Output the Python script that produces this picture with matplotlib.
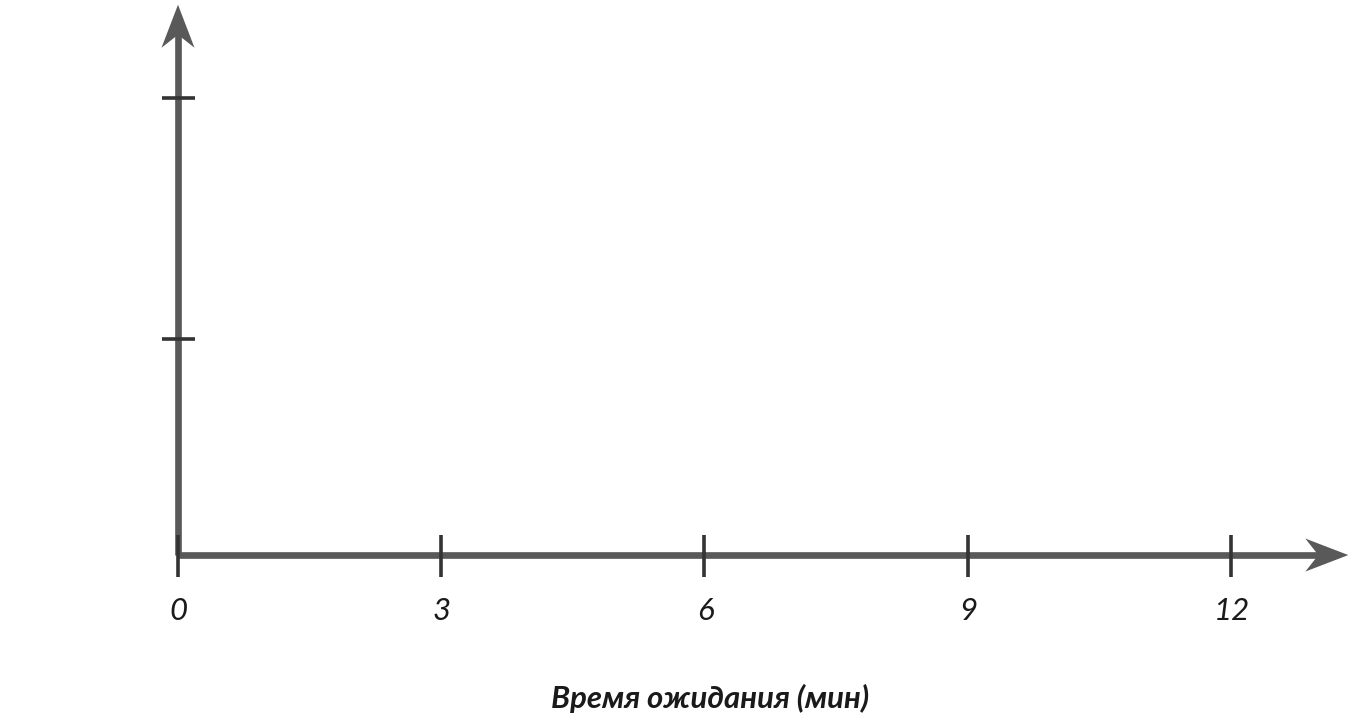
import matplotlib
matplotlib.use("Agg")
import matplotlib.pyplot as plt
from matplotlib.patches import Polygon
from matplotlib.transforms import IdentityTransform

# axis ticks
x_ticks = [0, 3, 6, 9, 12]
x_tick_labels = ["0", "3", "6", "9", "12"]
y_ticks = [0.473, 1.0]          # unlabelled marks on the vertical axis
x_label = "Время ожидания (мин)"

x_end = 13.34                   # tip of the horizontal arrow
y_end = 1.204                   # tip of the vertical arrow

AXIS_COLOR = "#595959"
TICK_COLOR = "#333333"
TEXT_COLOR = "#1a1a1a"
FONT = ["Lato", "DejaVu Sans"]

W, H, DPI = 1350, 726, 100
fig = plt.figure(figsize=(W / DPI, H / DPI), dpi=DPI)
ax = fig.add_axes([0, 0, 1, 1])
ax.set_xlim(-2.029, 13.359)
ax.set_ylim(-0.374, 1.2144)
ax.axis("off")


def arrow_head(tip, direction, length=43, half=16.5, notch=13):
    """stealth style arrow head drawn in pixels at a data point"""
    tx, ty = ax.transData.transform(tip)
    dx, dy = direction
    px, py = -dy, dx
    bx, by = tx - dx * length, ty - dy * length
    pts = [
        (tx, ty),
        (bx + px * half, by + py * half),
        (tx - dx * (length - notch), ty - dy * (length - notch)),
        (bx - px * half, by - py * half),
    ]
    ax.add_patch(Polygon(pts, closed=True, facecolor=AXIS_COLOR,
                         edgecolor="none", transform=IdentityTransform(),
                         zorder=4))


# axis lines
ax.plot([0, x_end - 0.3], [0, 0], color=AXIS_COLOR, lw=4.8,
        solid_capstyle="butt", zorder=3)
ax.plot([0, 0], [0, y_end - 0.06], color=AXIS_COLOR, lw=4.8,
        solid_capstyle="butt", zorder=3)
arrow_head((x_end, 0), (1, 0))
arrow_head((0, y_end), (0, 1))

# tick marks
for xt in x_ticks:
    ax.plot([xt, xt], [-0.048, 0.044], color=TICK_COLOR, lw=2.6,
            solid_capstyle="butt", zorder=5)
for yt in y_ticks:
    ax.plot([-0.18, 0.19], [yt, yt], color=TICK_COLOR, lw=2.6,
            solid_capstyle="butt", zorder=5)

# tick labels
for xt, lab in zip(x_ticks, x_tick_labels):
    ax.text(xt + 0.01, -0.123, lab, ha="center", va="center",
            fontsize=22.5, style="italic", color=TEXT_COLOR, family=FONT)

ax.text(6.07, -0.313, x_label, ha="center", va="center", fontsize=22.4,
        style="italic", weight="bold", color=TEXT_COLOR, family=FONT)

fig.savefig("out.png", dpi=DPI, facecolor="white")
